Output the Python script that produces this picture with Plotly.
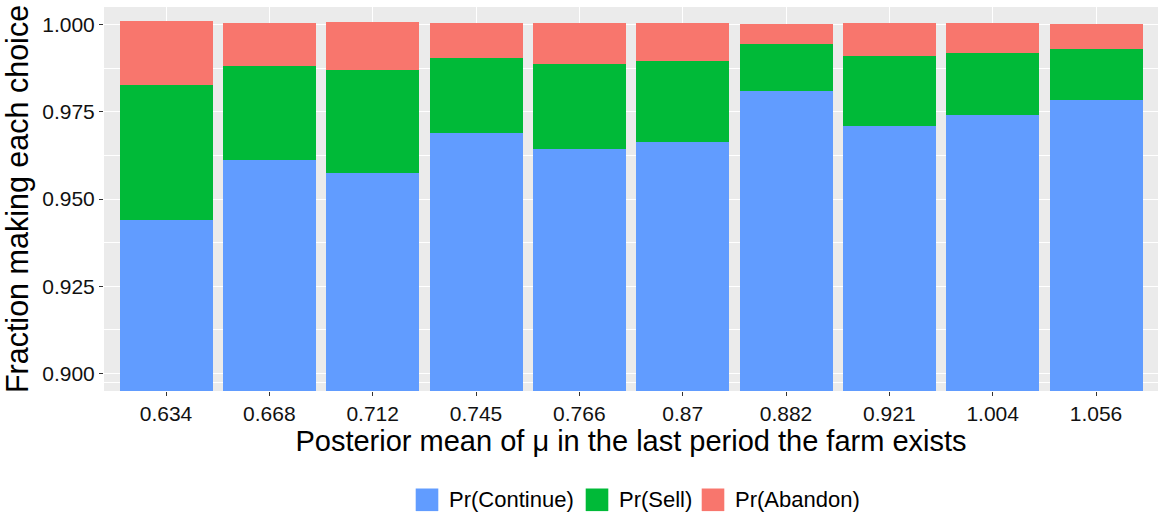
import plotly.graph_objects as go

categories = ["0.634", "0.668", "0.712", "0.745", "0.766", "0.87", "0.882", "0.921", "1.004", "1.056"]
pr_continue = [0.9440, 0.9612, 0.9574, 0.9690, 0.9644, 0.9662, 0.9808, 0.9710, 0.9742, 0.9784]
pr_sell = [0.0388, 0.0270, 0.0296, 0.0214, 0.0243, 0.0232, 0.0135, 0.0200, 0.0176, 0.0147]
pr_abandon = [0.0181, 0.0122, 0.0136, 0.0100, 0.0117, 0.0110, 0.0059, 0.0094, 0.0086, 0.0071]
series_names = ["Pr(Continue)", "Pr(Sell)", "Pr(Abandon)"]
series_colors = ["#619CFF", "#00BA38", "#F8766D"]
y_ticks = [0.900, 0.925, 0.950, 0.975, 1.000]
y_minor = [0.8975, 0.9125, 0.9375, 0.9625, 0.9875]

FONT = "Liberation Sans, Arial, sans-serif"
W, H = 1161, 518
ML, MR, MT, MB = 104, 3, 7, 127
PW, PH = W - ML - MR, H - MT - MB

fig = go.Figure()
for name, vals, col in zip(series_names, [pr_continue, pr_sell, pr_abandon], series_colors):
    fig.add_trace(go.Bar(x=categories, y=vals, name=name, showlegend=False,
                         marker=dict(color=col, line=dict(width=0))))

# custom legend (ggplot-style keys) below the plot
def px_to_paper_x(px):
    return (px - ML) / PW

def px_to_paper_y(py):
    return (H - MB - py) / PH

legend_keys_x = [415.7, 585.7, 701.7]
key_size = 22.6
key_top = 488.5
shapes = []
annotations = []
for name, col, kx in zip(series_names, series_colors, legend_keys_x):
    shapes.append(dict(type="rect", xref="paper", yref="paper",
                       x0=px_to_paper_x(kx), x1=px_to_paper_x(kx + key_size),
                       y0=px_to_paper_y(key_top), y1=px_to_paper_y(key_top + key_size),
                       fillcolor=col, line=dict(width=0)))
    annotations.append(dict(xref="paper", yref="paper",
                            x=px_to_paper_x(kx + key_size + 9), y=px_to_paper_y(key_top + key_size / 2),
                            xanchor="left", yanchor="middle", showarrow=False, text=name,
                            font=dict(size=22, family=FONT, color="black")))

fig.update_layout(
    width=W, height=H,
    barmode="stack", bargap=0.1,
    paper_bgcolor="white", plot_bgcolor="#EBEBEB",
    margin=dict(l=ML, r=MR, t=MT, b=MB, autoexpand=False),
    font=dict(family=FONT, color="black"),
    showlegend=False,
    shapes=shapes, annotations=annotations,
)
fig.update_xaxes(
    type="category", range=[-0.6, 9.6], automargin=False,
    showgrid=True, gridcolor="white", gridwidth=1.4,
    ticks="outside", ticklen=4, tickcolor="#333333", tickwidth=1,
    tickfont=dict(size=21, color="#111111"),
    title=dict(text="Posterior mean of μ in the last period the farm exists",
               font=dict(size=29), standoff=3),
    zeroline=False, showline=False,
)
fig.update_yaxes(
    range=[0.895, 1.005], automargin=False,
    tickmode="array", tickvals=y_ticks,
    ticktext=[f"{v:.3f}" for v in y_ticks],
    showgrid=True, gridcolor="white", gridwidth=1.4,
    minor=dict(tickmode="array", tickvals=y_minor,
               showgrid=True, gridcolor="white", gridwidth=0.7, ticks=""),
    ticks="outside", ticklen=4, tickcolor="#333333", tickwidth=1,
    tickfont=dict(size=21, color="#111111"),
    title=dict(text="Fraction making each choice", font=dict(size=30.5), standoff=4),
    zeroline=False, showline=False,
)

fig.write_html("out.html", config={"displayModeBar": False},
               post_script="document.body.style.margin='0px';document.body.style.padding='0px';")
